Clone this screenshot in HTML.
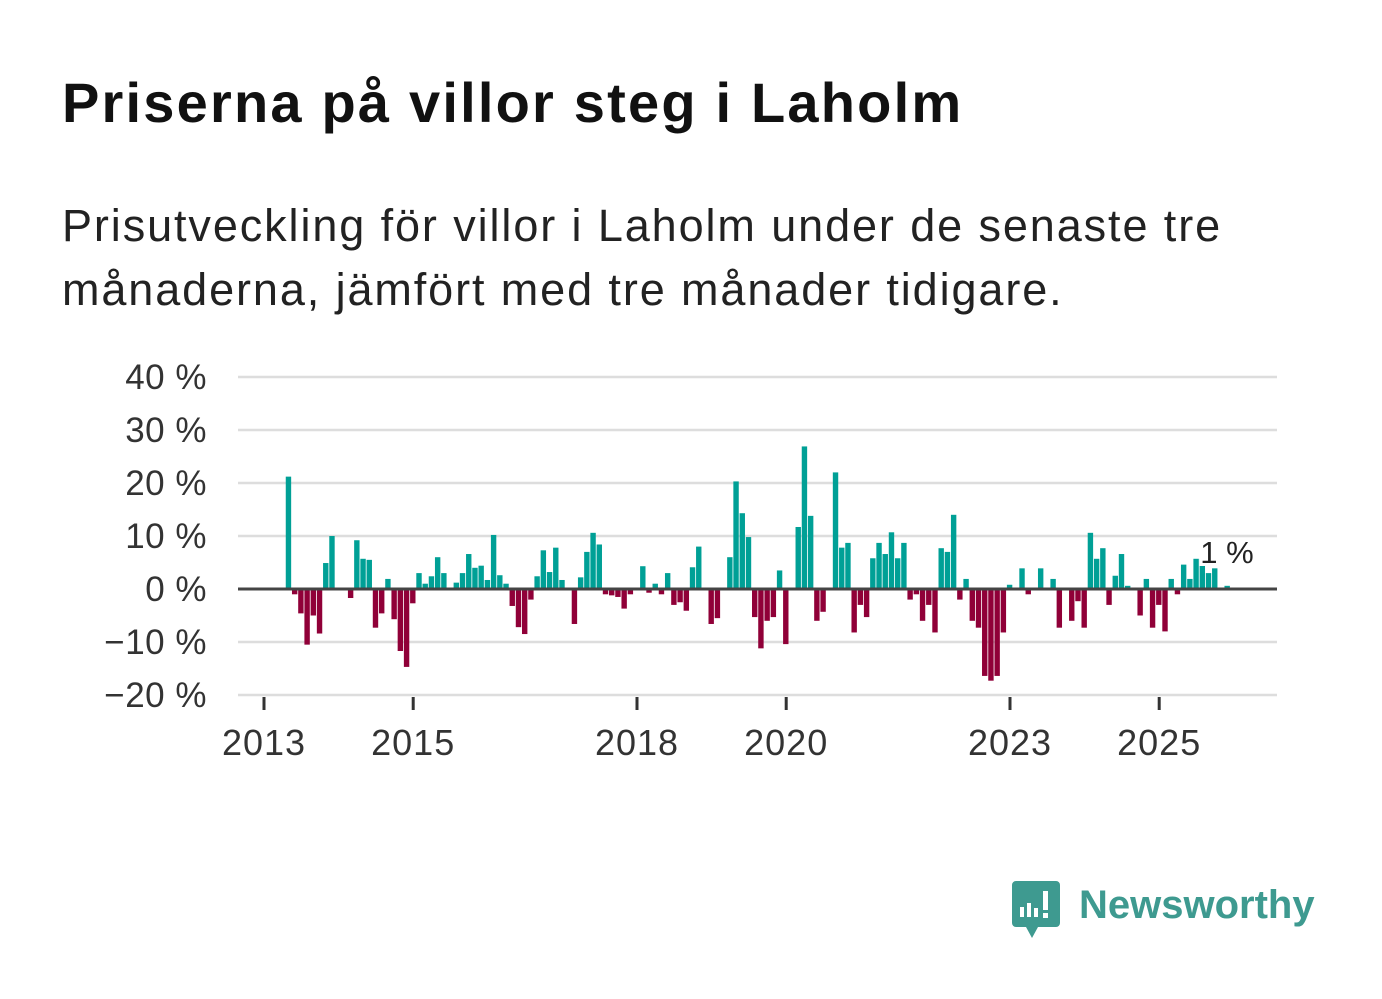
<!DOCTYPE html>
<html><head><meta charset="utf-8">
<style>
body{margin:0;background:#fff;width:1382px;height:999px;overflow:hidden;font-family:"Liberation Sans",sans-serif;}
#title{position:absolute;left:62px;top:70px;font-size:56px;font-weight:bold;color:#111;margin:0;letter-spacing:2.2px;white-space:nowrap}
#sub{position:absolute;left:62px;top:194px;font-size:45px;line-height:64px;color:#222;width:1300px;letter-spacing:1.9px;white-space:nowrap}
svg{position:absolute;left:0;top:0}
</style></head><body>
<h1 id="title">Priserna på villor steg i Laholm</h1>
<div id="sub">Prisutveckling för villor i Laholm under de senaste tre<br>månaderna, jämfört med tre månader tidigare.</div>
<svg id="chart" width="1382" height="999"></svg>
<script>
const yTicks=[40,30,20,10,0,-10,-20];
const yTickLabels=["40 %","30 %","20 %","10 %","0 %","\u221210 %","\u221220 %"];
const xTicks=[2013,2015,2018,2020,2023,2025];
const xTickLabels=["2013","2015","2018","2020","2023","2025"];
const startYear=2013;
const values=[0,0,0,21.2,-1,-4.6,-10.5,-5,-8.4,4.9,10,0,0,-1.7,9.2,5.7,5.5,-7.3,-4.6,1.9,
-5.7,-11.7,-14.7,-2.7,3,1,2.4,6,3,0,1.2,3,6.6,4,4.4,1.7,10.2,2.6,1,-3.2,
-7.2,-8.5,-2,2.4,7.3,3.2,7.8,1.7,0,-6.6,2.2,7,10.6,8.4,-1,-1.2,-1.5,-3.7,-1,0,
4.3,-0.7,1,-1,3,-3,-2.5,-4.1,4.1,8,0,-6.6,-5.5,0,6,20.3,14.3,9.8,-5.3,-11.2,
-6,-5.3,3.5,-10.4,0,11.7,26.9,13.8,-6,-4.3,0,22,7.8,8.7,-8.2,-3,-5.3,5.8,8.7,6.6,
10.7,5.8,8.7,-2,-1,-6,-3,-8.2,7.7,7,14,-2,1.9,-6,-7.3,-16.4,-17.3,-16.4,-8.2,0.8,
0,3.9,-1,0,3.9,0,1.9,-7.3,0,-6,-2.3,-7.3,10.6,5.7,7.7,-3,2.5,6.6,0.6,0,
-5,1.9,-7.3,-3,-8,1.9,-1,4.6,1.9,5.7,5.7,3,3.9,0,0.6];
const lastLabel="1 %";
const NS="http://www.w3.org/2000/svg";
const svg=document.getElementById('chart');
const x0=238,x1=1277;
function xs(yr){return 264+(yr-2013)*74.6;}
function ys(v){return 589-v*5.3;}
function mk(t,a){const e=document.createElementNS(NS,t);for(const k in a)e.setAttribute(k,a[k]);svg.appendChild(e);return e;}
yTicks.forEach((v,i)=>{
  if(v!==0){const g=mk('line',{x1:x0,x2:x1,y1:ys(v),y2:ys(v),stroke:'#dddddd','stroke-width':2.5});
  
  }
  const t=mk('text',{x:207,y:ys(v)+12,'text-anchor':'end','font-size':35,'letter-spacing':0.5,fill:'#333','font-family':'Liberation Sans, sans-serif'});
  t.textContent=yTickLabels[i];
  
  
});
values.forEach((v,i)=>{
  if(v===0)return;
  const cx=xs(startYear+(i+0.5)/12)+2.7;
  const y=Math.min(ys(v),ys(0)),h=Math.abs(ys(v)-ys(0));
  const r=mk('rect',{x:cx-2.7,y:y,width:5.4,height:h,fill:v>0?'#00a096':'#900038'});
  
  
});
const z=mk('line',{x1:x0,x2:x1,y1:ys(0),y2:ys(0),stroke:'#444','stroke-width':3});


xTicks.forEach((yr,i)=>{
  const tk=mk('line',{x1:xs(yr),x2:xs(yr),y1:697,y2:710,stroke:'#333','stroke-width':3});
  
  
  const t=mk('text',{x:xs(yr),y:755,'text-anchor':'middle','font-size':36,'letter-spacing':1,fill:'#333','font-family':'Liberation Sans, sans-serif'});
  t.textContent=xTickLabels[i];
  
  
});
const lbl=mk('text',{x:1227,y:563,'text-anchor':'middle','font-size':31,fill:'#222',stroke:'#fff','stroke-width':6,'paint-order':'stroke','font-family':'Liberation Sans, sans-serif'});
lbl.textContent=lastLabel;


</script>
<svg width="1382" height="999" style="pointer-events:none">
<path d="M1016 881 h40 a4 4 0 0 1 4 4 v38 a4 4 0 0 1 -4 4 h-18 l-6 11 l-6 -11 h-10 a4 4 0 0 1 -4 -4 v-38 a4 4 0 0 1 4 -4z" fill="#3e9a90"/>
<rect x="1020" y="907" width="4" height="10" fill="#fff"/><rect x="1027" y="903" width="4" height="14" fill="#fff"/>
<rect x="1034" y="908" width="4" height="9" fill="#fff"/><rect x="1043" y="891" width="5" height="19" fill="#fff"/><rect x="1043" y="913" width="5" height="5" fill="#fff"/>
<text x="1079" y="918" font-size="40" font-weight="bold" fill="#3e9a90" font-family="Liberation Sans, sans-serif">Newsworthy</text>
</svg>
</body></html>
